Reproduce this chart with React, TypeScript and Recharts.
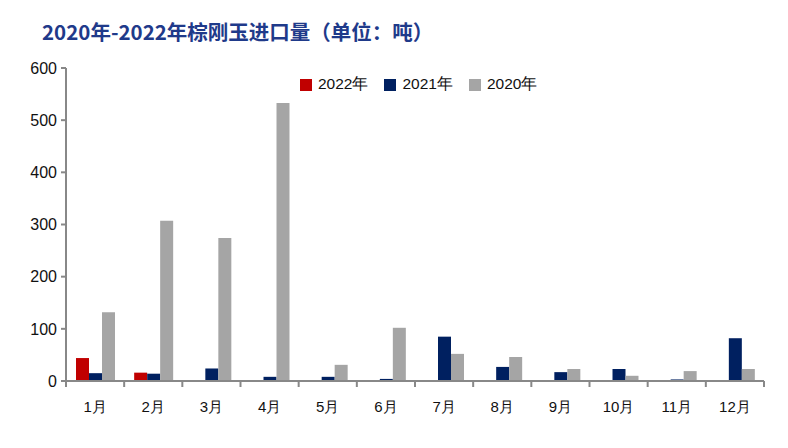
import React from "react";
import { BarChart, Bar, XAxis, YAxis, Legend } from "recharts";

const months = ["1月", "2月", "3月", "4月", "5月", "6月", "7月", "8月", "9月", "10月", "11月", "12月"];
const y2022 = [44, 16, null, null, null, null, null, null, null, null, null, null];
const y2021 = [15, 14, 24, 8, 8, 4, 85, 27, 17, 23, 3, 82];
const y2020 = [132, 307, 274, 533, 31, 102, 52, 46, 23, 10, 19, 23];
const yTicks = [0, 100, 200, 300, 400, 500, 600];
const edgeTicks = [0, 1, 2, 3, 4, 5, 6, 7, 8, 9, 10, 11, 12];

const data = months.map((m, i) => ({
  m,
  pos: i + 0.5,
  a: y2022[i],
  b: y2021[i],
  c: y2020[i],
}));

const axisColor = "#888888";
const font = "'Liberation Sans', Arial, sans-serif";

export default function App() {
  return (
    <div
      style={{
        position: "absolute",
        left: 0,
        top: 0,
        width: 788,
        height: 448,
        background: "#fff",
        fontFamily: font,
      }}
    >
      <div
        style={{
          position: "absolute",
          left: 42,
          top: 16,
          fontSize: 20.5,
          fontWeight: 700,
          color: "#1F3A8A",
          fontFamily: "'Noto Sans CJK SC', sans-serif",
          whiteSpace: "nowrap",
        }}
      >
        2020年-2022年棕刚玉进口量（单位：吨）
      </div>
      <BarChart
        width={788}
        height={448}
        data={data}
        margin={{ top: 48, right: 24, bottom: 36, left: 0 }}
        barCategoryGap={10}
        barGap={0}
      >
        <XAxis
          xAxisId={0}
          type="number"
          dataKey="pos"
          domain={[0, 12]}
          ticks={edgeTicks}
          tickFormatter={() => ""}
          height={1}
          tickSize={6}
          stroke={axisColor}
          strokeWidth={2}
          allowDataOverflow
        />
        <XAxis
          xAxisId={1}
          dataKey="m"
          axisLine={false}
          tickLine={false}
          height={30}
          tickMargin={13}
          tick={{ fill: "#111", fontSize: 15, fontFamily: font }}
          interval={0}
        />
        <YAxis
          domain={[0, 600]}
          ticks={yTicks}
          width={66}
          tickSize={5}
          tickMargin={4}
          stroke={axisColor}
          strokeWidth={2}
          tick={{ fill: "#111", fontSize: 16, fontFamily: font }}
        />
        <Legend
          verticalAlign="top"
          align="left"
          iconType="square"
          iconSize={12}
          itemSorter="dataKey"
          wrapperStyle={{ top: 74, left: 300, width: "auto", fontSize: 15.5, fontFamily: font, lineHeight: "20px" }}
          formatter={(v) => <span style={{ color: "#111", marginLeft: 2, marginRight: 6 }}>{v}</span>}
        />
        <Bar xAxisId={1} dataKey="a" name="2022年" fill="#C00000" isAnimationActive={false} />
        <Bar xAxisId={1} dataKey="b" name="2021年" fill="#002060" isAnimationActive={false} />
        <Bar xAxisId={1} dataKey="c" name="2020年" fill="#A5A5A5" isAnimationActive={false} />
      </BarChart>
    </div>
  );
}
